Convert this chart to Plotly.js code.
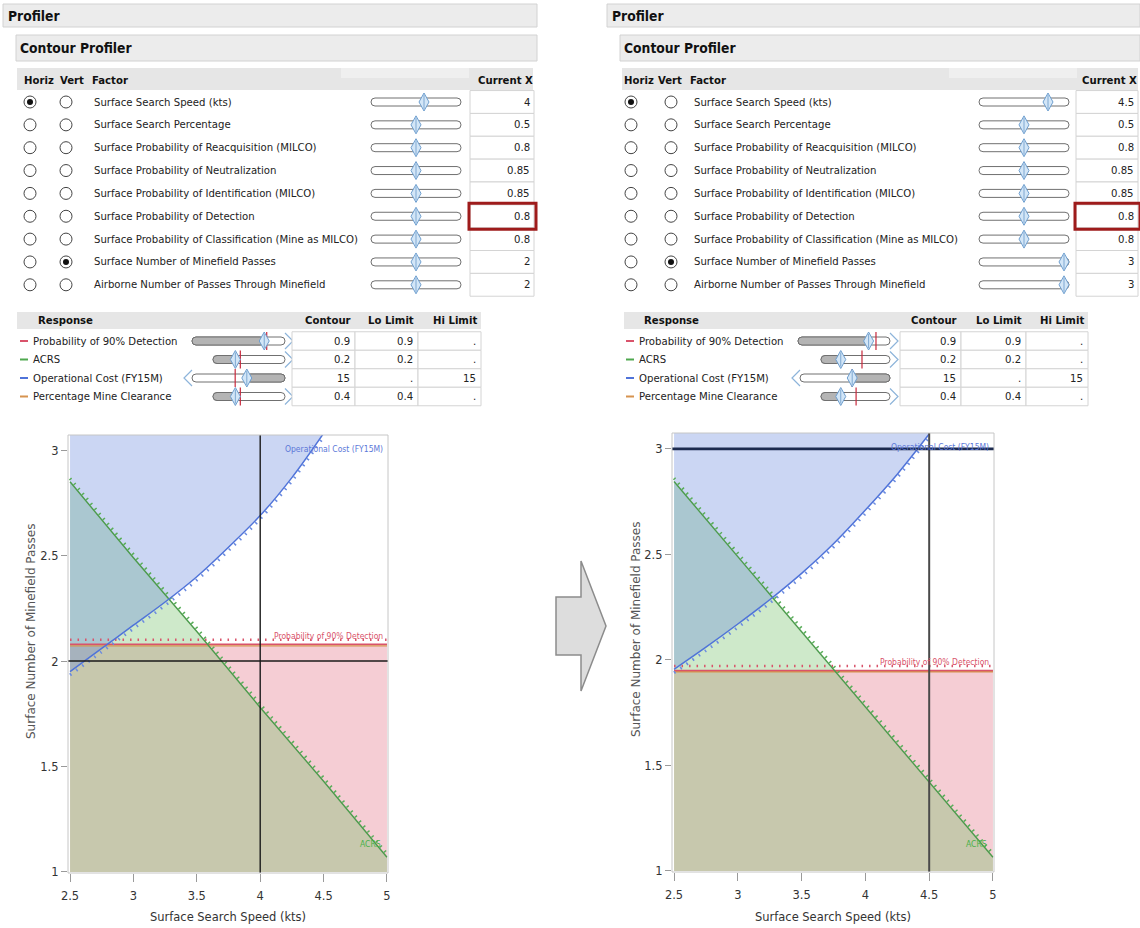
<!DOCTYPE html>
<html><head><meta charset="utf-8">
<script src="https://cdn.plot.ly/plotly-3.0.1.min.js"></script>
<style>html,body{margin:0;padding:0;background:#fff}#chart{width:1140px;height:928px}</style>
</head><body><div id="chart"></div>
<script>
// ---------------- DATA ----------------
const factorNames = [
  'Surface Search Speed (kts)',
  'Surface Search Percentage',
  'Surface Probability of Reacquisition (MILCO)',
  'Surface Probability of Neutralization',
  'Surface Probability of Identification (MILCO)',
  'Surface Probability of Detection',
  'Surface Probability of Classification (Mine as MILCO)',
  'Surface Number of Minefield Passes',
  'Airborne Number of Passes Through Minefield'
];
const factorRangeLo = [2.5, 0, 0.6, 0.7, 0.7, 0.6, 0.6, 1, 1];
const factorRangeHi = [5, 1, 1, 1, 1, 1, 1, 3, 3];
const currentXBefore = [4, 0.5, 0.8, 0.85, 0.85, 0.8, 0.8, 2, 2];
const currentXAfter  = [4.5, 0.5, 0.8, 0.85, 0.85, 0.8, 0.8, 3, 3];
const horizFactor = 0, vertFactor = 7, highlightedFactor = 5;

const responseNames = ['Probability of 90% Detection', 'ACRS', 'Operational Cost (FY15M)', 'Percentage Mine Clearance'];
const contourValues = [0.9, 0.2, 15, 0.4];
const loLimits = [0.9, 0.2, null, 0.4];
const hiLimits = [null, null, 15, null];

const speedTicks = [2.5, 3, 3.5, 4, 4.5, 5];
const speedTickText = ['2.5', '3', '3.5', '4', '4.5', '5'];
const passesTicks = [1, 1.5, 2, 2.5, 3];
const passesTickText = ['1', '1.5', '2', '2.5', '3'];

const costSpeeds = [2.5, 2.75, 3, 3.25, 3.5, 3.75, 4, 4.25, 4.5];
const costPassesBefore = [1.95, 2.06, 2.17, 2.28, 2.40, 2.54, 2.69, 2.87, 3.08];
const costPassesAfter  = [1.955, 2.06, 2.17, 2.285, 2.41, 2.55, 2.71, 2.88, 3.07];
const acrsSpeeds = [2.5, 3, 3.5, 4, 4.5, 5];
const acrsPassesBefore = [2.85, 2.49, 2.14, 1.78, 1.43, 1.07];
const acrsPassesAfter  = [2.845, 2.49, 2.13, 1.78, 1.42, 1.065];
const probPassesBefore = 2.08, probPassesAfter = 1.95;
const pmcPassesBefore = 2.072, pmcPassesAfter = 1.944;

// ---------------- STYLE / LAYOUT ----------------
const W = 1140, H = 928;
const respColors = ['#d9536b', '#4fa84f', '#4f73d9', '#d6934f'];
function fontAvail(name){
  const c = document.createElement('canvas').getContext('2d');
  const s = 'Surface Probability of Classification (Mine as MILCO) 0123';
  c.font = '40px monospace'; const a = c.measureText(s).width;
  c.font = '40px "' + name + '", monospace'; const b = c.measureText(s).width;
  return Math.abs(a - b) > 0.5;
}
const UI = ['Liberation Sans Narrow', 'DejaVu Sans Condensed', 'Roboto', 'Liberation Sans'].find(fontAvail) || 'sans-serif';
const UIS = (function(){
  const c = document.createElement('canvas').getContext('2d');
  c.font = '12px "' + UI + '"';
  const w = c.measureText(factorNames[6]).width;
  return Math.max(9.5, Math.min(13, 12 * 264 / w));
})();

const shapes = [], ann = [];
const X = x => x / W, Y = y => 1 - y / H;
function T(x, y, s, o = {}) {
  ann.push({xref:'paper', yref:'paper', x:X(x), y:Y(y), text:s, showarrow:false,
    xanchor:o.a || 'left', yanchor:o.v || 'middle', borderpad:0, textangle:o.rot || 0,
    font:{family:o.f || UI, size:o.s || UIS, color:o.c || '#222'}});
}
function R(x0, y0, x1, y1, fill, line, lw) {
  shapes.push({type:'rect', xref:'paper', yref:'paper', x0:X(x0), x1:X(x1), y0:Y(y1), y1:Y(y0),
    fillcolor:fill || 'rgba(0,0,0,0)', line:{color:line || 'rgba(0,0,0,0)', width:lw == null ? 1 : lw}});
}
function Ln(x0, y0, x1, y1, color, w) {
  shapes.push({type:'line', xref:'paper', yref:'paper', x0:X(x0), x1:X(x1), y0:Y(y0), y1:Y(y1), line:{color:color, width:w || 1}});
}
function Cir(cx, cy, r, fill, line, lw) {
  shapes.push({type:'circle', xref:'paper', yref:'paper', x0:X(cx - r), x1:X(cx + r), y0:Y(cy + r), y1:Y(cy - r),
    fillcolor:fill, line:{color:line || 'rgba(0,0,0,0)', width:lw == null ? 1 : lw}});
}
function P(pts, close) {
  return pts.map((p, i) => (i ? 'L' : 'M') + X(p[0]) + ',' + Y(p[1])).join(' ') + (close ? ' Z' : '');
}
function Path(d, fill, line, lw) {
  shapes.push({type:'path', xref:'paper', yref:'paper', path:d, fillcolor:fill || 'rgba(0,0,0,0)',
    line:{color:line || 'rgba(0,0,0,0)', width:lw == null ? 1 : lw}});
}
function rr(x0, y0, x1, y1, r) {
  const q = (x, y) => X(x) + ',' + Y(y);
  return 'M' + q(x0 + r, y0) + ' L' + q(x1 - r, y0) + ' Q' + q(x1, y0) + ' ' + q(x1, y0 + r) +
    ' L' + q(x1, y1 - r) + ' Q' + q(x1, y1) + ' ' + q(x1 - r, y1) + ' L' + q(x0 + r, y1) +
    ' Q' + q(x0, y1) + ' ' + q(x0, y1 - r) + ' L' + q(x0, y0 + r) + ' Q' + q(x0, y0) + ' ' + q(x0 + r, y0) + ' Z';
}
function thumb(cx, cy) {
  Path(P([[cx, cy - 9], [cx + 5, cy], [cx, cy + 9], [cx - 5, cy]], true), '#d3e6f7', '#6f9fcf', 1);
  Ln(cx, cy - 7, cx, cy + 7, '#7ea8d2', 1);
}

// Panel geometry (pixels)
const panels = [
  {profBar:[3, 537], contBar:[16, 537], hdr:[17, 533], hText:[23, 59, 91], horiz:30, vert:66, name:93, track:[371, 461],
   cell:[470, 534], rowsY0:102, rowDY:22.85,
   rHdr:[17, 481], rDash:20, rName:32, rTracks:[[192, 285], [213, 285], [192, 285], [213, 285]],
   rCells:[292, 355, 418, 481], rThumb:[0.81, 0.28, 0.60, 0.28], rCur:[0.84, 0.36, 0.46, 0.36],
   plot:[68, 388, 435, 873], xr:[2.484, 5.008], yr:[0.995, 3.072], ytitle:[31, 631], xtitleY:916, ax:''},
  {profBar:[607, 1140], contBar:[620, 1140], hdr:[622, 1138], hText:[623, 657, 689], horiz:631, vert:671, name:693, track:[979, 1069],
   cell:[1076, 1138], rowsY0:102, rowDY:22.85,
   rHdr:[624, 1088], rDash:626, rName:638, rTracks:[[798, 890], [821, 890], [800, 890], [821, 890]],
   rCells:[900, 961, 1026, 1088], rThumb:[0.80, 0.25, 0.59, 0.25], rCur:[0.89, 0.61, 0.59, 0.51],
   plot:[672, 994, 433, 872], xr:[2.484, 5.008], yr:[0.995, 3.075], ytitle:[636, 629], xtitleY:916, ax:'2'}
];
const panelData = [
  {cur:currentXBefore, cost:costPassesBefore, acrs:acrsPassesBefore, prob:probPassesBefore, pmc:pmcPassesBefore},
  {cur:currentXAfter, cost:costPassesAfter, acrs:acrsPassesAfter, prob:probPassesAfter, pmc:pmcPassesAfter}
];

const traces = [];
const layout = {width:W, height:H, margin:{l:0, r:0, t:0, b:0}, paper_bgcolor:'#fff', plot_bgcolor:'rgba(0,0,0,0)',
  showlegend:false, shapes:shapes, annotations:ann};

panels.forEach((g, pi) => {
  const d = panelData[pi];
  // header bars
  R(g.profBar[0], 4, g.profBar[1], 27, '#ececec', '#d2d2d2', 1);
  T(g.profBar[0] + 4, 16, '<b>Profiler</b>', {s:UIS + 2.5, c:'#111'});
  R(g.contBar[0], 35, g.contBar[1], 61, '#ececec', '#d2d2d2', 1);
  T(g.contBar[0] + 3, 48, '<b>Contour Profiler</b>', {s:UIS + 2.5, c:'#111'});
  R(g.hdr[0], 68, g.hdr[1], 90, '#e6e6e6', null, 0);
  R(g.track[0] - 30, 68, g.track[1] + 8, 78, '#efefef', null, 0);
  T(g.hText[0], 81, '<b>Horiz</b>', {c:'#111'});
  T(g.hText[1], 81, '<b>Vert</b>', {c:'#111'});
  T(g.hText[2], 81, '<b>Factor</b>', {c:'#111'});
  T(g.cell[1], 81, '<b>Current X</b>', {a:'right', c:'#111'});
  // factor rows
  factorNames.forEach((nm, i) => {
    const y = g.rowsY0 + i * g.rowDY;
    Cir(g.horiz, y, 6, '#fff', '#444', 1);
    Cir(g.vert, y, 6, '#fff', '#444', 1);
    if (i === horizFactor) Cir(g.horiz, y, 3, '#111');
    if (i === vertFactor) Cir(g.vert, y, 3, '#111');
    T(g.name, y, nm, {c:'#222'});
    Path(rr(g.track[0], y - 4, g.track[1], y + 4, 4), '#fff', '#707070', 1);
    const f = (d.cur[i] - factorRangeLo[i]) / (factorRangeHi[i] - factorRangeLo[i]);
    thumb(g.track[0] + 5 + f * (g.track[1] - g.track[0] - 10), y);
    R(g.cell[0], y - g.rowDY / 2, g.cell[1], y + g.rowDY / 2, '#fff', '#d4d4d4', 1);
    T(g.cell[1] - 3, y, String(d.cur[i]), {a:'right'});
  });
  const hy = g.rowsY0 + highlightedFactor * g.rowDY;
  R(g.cell[0] - 1, hy - 13, g.cell[1] + 2, hy + 13, 'rgba(0,0,0,0)', '#9e1b1b', 3);
  // response table
  R(g.rHdr[0], 312, g.rHdr[1], 329, '#e6e6e6', null, 0);
  T(g.rName + 5, 320, '<b>Response</b>', {c:'#111'});
  T(g.rCells[1] - 3, 320, '<b>Contour</b>', {a:'right', c:'#111'});
  T(g.rCells[2] - 3, 320, '<b>Lo Limit</b>', {a:'right', c:'#111'});
  T(g.rCells[3] - 3, 320, '<b>Hi Limit</b>', {a:'right', c:'#111'});
  responseNames.forEach((nm, i) => {
    const y = 341 + i * 18.5;
    Ln(g.rDash, y, g.rDash + 8, y, respColors[i], 2);
    T(g.rName, y, nm, {c:'#222'});
    const [t0, t1] = g.rTracks[i];
    const cx = t0 + 5 + g.rThumb[i] * (t1 - t0 - 10);
    Path(rr(t0, y - 4, t1, y + 4, 4), '#fff', '#707070', 1);
    if (loLimits[i] !== null) Path(rr(t0, y - 4, cx, y + 4, 4), '#b4b4b4', '#707070', 1);
    else Path(rr(cx, y - 4, t1, y + 4, 4), '#b4b4b4', '#707070', 1);
    if (loLimits[i] !== null) Path(P([[t1, y - 8], [t1 + 8, y], [t1, y + 8]], false), null, '#8db4da', 1.2);
    else Path(P([[t0, y - 8], [t0 - 8, y], [t0, y + 8]], false), null, '#8db4da', 1.2);
    const rx = t0 + 5 + g.rCur[i] * (t1 - t0 - 10);
    Ln(rx, y - 9, rx, y + 9, '#c8283c', 1.2);
    thumb(cx, y);
    const cells = [contourValues[i], loLimits[i], hiLimits[i]];
    cells.forEach((v, k) => {
      R(g.rCells[k], y - 9.25, g.rCells[k + 1], y + 9.25, '#fff', '#d4d4d4', 1);
      T(g.rCells[k + 1] - 4, y, v === null ? '.' : String(v), {a:'right'});
    });
  });

  // ------- contour plot -------
  const xa = 'x' + g.ax, ya = 'y' + g.ax;
  const [xlo, xhi] = [acrsSpeeds[0], acrsSpeeds[acrsSpeeds.length - 1]];
  const ylo = factorRangeLo[vertFactor], ytop = g.yr[1] + 0.2;
  const base = {xaxis:xa, yaxis:ya, hoverinfo:'skip', type:'scatter'};
  traces.push(Object.assign({}, base, {x:[xlo, xhi, xhi, xlo], y:[d.prob, d.prob, ylo, ylo], mode:'lines', fill:'toself',
    fillcolor:'rgba(226,108,128,0.34)', line:{width:0}}));
  traces.push(Object.assign({}, base, {x:acrsSpeeds.concat([xhi, xlo]), y:d.acrs.concat([ylo, ylo]), mode:'lines', fill:'toself',
    fillcolor:'rgba(112,190,100,0.34)', line:{width:0}}));
  traces.push(Object.assign({}, base, {x:costSpeeds.concat([costSpeeds[costSpeeds.length - 1], xlo]), y:d.cost.concat([ytop, ytop]),
    mode:'lines', fill:'toself', fillcolor:'rgba(102,136,220,0.34)', line:{width:0}}));
  // contour lines + hatch ticks toward feasible side
  const off = 0.016;
  traces.push(Object.assign({}, base, {x:[xlo, xhi], y:[d.pmc, d.pmc], mode:'lines', line:{color:respColors[3], width:1.4}}));
  traces.push(Object.assign({}, base, {x:[xlo, xhi], y:[d.prob, d.prob], mode:'lines', line:{color:respColors[0], width:1.4}}));
  traces.push(Object.assign({}, base, {x:[xlo, xhi], y:[d.prob + off * 1.3, d.prob + off * 1.3], mode:'lines', line:{color:respColors[0], width:2.5, dash:'1.5px,6px'}}));
  traces.push(Object.assign({}, base, {x:acrsSpeeds, y:d.acrs, mode:'lines', line:{color:'#4c9b4c', width:1.4}}));
  traces.push(Object.assign({}, base, {x:acrsSpeeds, y:d.acrs.map(v => v + off), mode:'lines', line:{color:'#5aae5a', width:3, dash:'1.5px,5px'}}));
  traces.push(Object.assign({}, base, {x:costSpeeds, y:d.cost, mode:'lines', line:{color:respColors[2], width:1.5, shape:'spline'}}));
  traces.push(Object.assign({}, base, {x:costSpeeds, y:d.cost.map(v => v - off), mode:'lines', line:{color:'#6b8be0', width:3, dash:'1.5px,6px', shape:'spline'}}));
  // crosshair at current X
  const cx = d.cur[horizFactor], cy = d.cur[vertFactor];
  const topHair = cy >= factorRangeHi[vertFactor];
  traces.push(Object.assign({}, base, {x:[cx, cx], y:[g.yr[0], g.yr[1]], mode:'lines', line:{color:topHair ? '#4a4a4a' : '#1a1a1a', width:topHair ? 2 : 1.4}}));
  traces.push(Object.assign({}, base, {x:[g.xr[0], g.xr[1]], y:[cy, cy], mode:'lines', line:{color:topHair ? '#1d2b4f' : '#1a1a1a', width:topHair ? 2.6 : 1.6}}));

  // axes
  const [pl, pr, pt, pb] = g.plot;
  layout['xaxis' + g.ax] = {domain:[X(pl), X(pr)], range:g.xr, anchor:ya, showgrid:false, zeroline:false, showline:false,
    ticks:'outside', ticklen:8, tickcolor:'#9a9a9a', tickvals:speedTicks, ticktext:speedTickText, ticklabelstandoff:3,
    tickfont:{family:UI, size:UIS + 1.5, color:'#333'}, fixedrange:true};
  layout['yaxis' + g.ax] = {domain:[Y(pb), Y(pt)], range:g.yr, anchor:xa, showgrid:false, zeroline:false, showline:false,
    ticks:'outside', ticklen:6, tickcolor:'#9a9a9a', tickvals:passesTicks, ticktext:passesTickText,
    tickfont:{family:UI, size:UIS + 1.5, color:'#333'}, fixedrange:true};
  shapes.push({type:'rect', xref:xa + ' domain', yref:ya + ' domain', x0:0, x1:1, y0:0, y1:1, line:{color:'#c6c6c6', width:1}, fillcolor:'rgba(0,0,0,0)'});
  // titles
  T((pl + pr) / 2, g.xtitleY, 'Surface Search Speed (kts)', {a:'center', c:'#333', s:UIS + 1.5});
  T(g.ytitle[0], g.ytitle[1], 'Surface Number of Minefield Passes', {a:'center', rot:-90, c:'#555', f:'DejaVu Sans', s:12});
  // contour labels
  ann.push({xref:xa + ' domain', yref:ya + ' domain', x:0.99, y:0.985, xanchor:'right', yanchor:'top', showarrow:false,
    text:responseNames[2], font:{family:UI, size:8.5, color:'#5b78d8'}});
  ann.push({xref:xa + ' domain', yref:ya, x:0.99, y:d.prob + 0.005, xanchor:'right', yanchor:'bottom', showarrow:false,
    text:responseNames[0], font:{family:UI, size:8.5, color:'#d9536b'}});
  ann.push({xref:xa, yref:ya, x:xhi - 0.03, y:d.acrs[d.acrs.length - 1] + 0.03, xanchor:'right', yanchor:'bottom', showarrow:false,
    text:responseNames[1], font:{family:UI, size:8.5, color:'#49b049'}});
});

// big grey arrow between the two profilers
Path(P([[556, 597], [581, 597], [581, 561], [606, 626], [581, 691], [581, 655], [556, 655]], true), '#dddddd', '#8c8c8c', 1.5);

Plotly.newPlot('chart', traces, layout, {staticPlot:true, displayModeBar:false});
</script></body></html>
